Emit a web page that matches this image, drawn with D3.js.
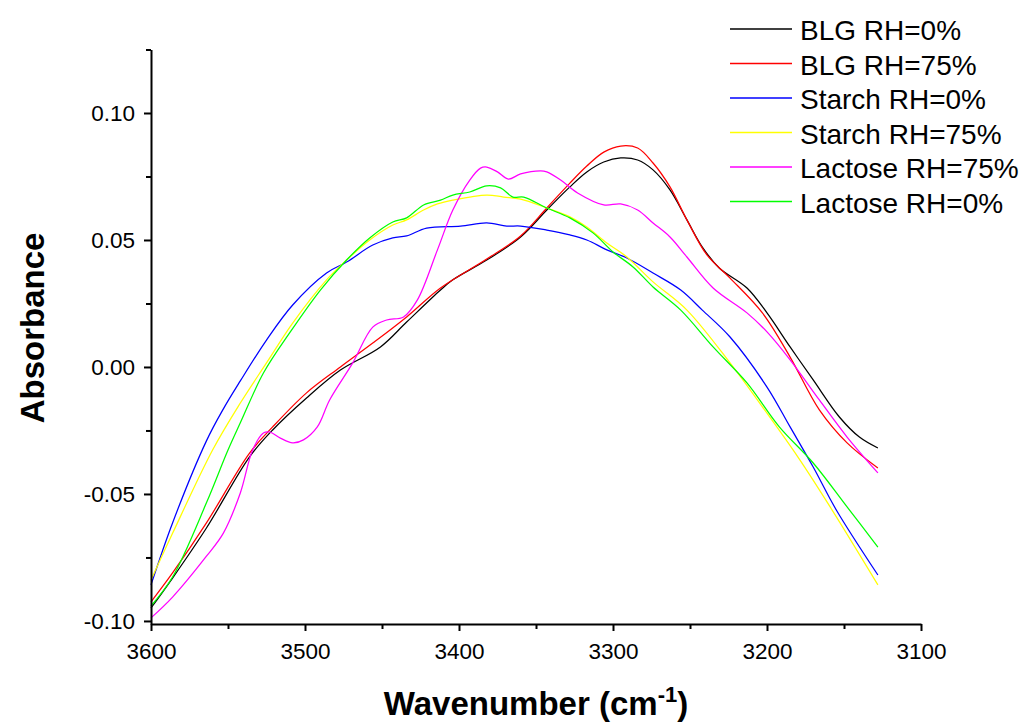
<!DOCTYPE html>
<html>
<head>
<meta charset="utf-8">
<script src="https://cdn.jsdelivr.net/npm/d3@7"></script>
<style>
  body { margin: 0; background: #fff; }
  svg { display: block; font-family: "Liberation Sans", Arial, sans-serif; }
</style>
</head>
<body>
<svg id="chart" width="1021" height="725"></svg>
<script>
// ---- Data (wavenumber cm-1, absorbance) ----
const seriesNames = ["BLG RH=0%", "BLG RH=75%", "Starch RH=0%", "Starch RH=75%", "Lactose RH=75%", "Lactose RH=0%"];
const seriesColors = ["#000000", "#ff0000", "#0000ff", "#ffff00", "#ff00ff", "#00ff00"];

const blg0 = [[3600,-0.0949],[3586,-0.0831],[3564,-0.0634],[3536,-0.0354],[3521,-0.0248],[3499,-0.0122],[3477,-0.0012],[3451,0.0079],[3434,0.0177],[3412,0.0303],[3404,0.0343],[3382,0.0421],[3360,0.0512],[3343,0.0618],[3328,0.0709],[3317,0.0768],[3306,0.0807],[3295,0.0823],[3284,0.0815],[3274,0.0776],[3263,0.0697],[3252,0.0579],[3242,0.0472],[3231,0.0390],[3213,0.0311],[3200,0.0213],[3185,0.0079],[3170,-0.0051],[3153,-0.0197],[3140,-0.0276],[3128,-0.0319]];

const blg75 = [[3600,-0.0925],[3586,-0.0811],[3564,-0.0614],[3536,-0.0339],[3521,-0.0236],[3499,-0.0102],[3477,0.0000],[3456,0.0094],[3434,0.0197],[3412,0.0311],[3382,0.0425],[3360,0.0516],[3343,0.0626],[3328,0.0724],[3317,0.0791],[3306,0.0846],[3295,0.0870],[3284,0.0862],[3274,0.0803],[3263,0.0709],[3252,0.0579],[3239,0.0441],[3224,0.0350],[3203,0.0213],[3185,0.0039],[3166,-0.0169],[3148,-0.0299],[3128,-0.0398]];

const starch0 = [[3600,-0.0858],[3586,-0.0614],[3564,-0.0291],[3553,-0.0165],[3542,-0.0055],[3525,0.0106],[3508,0.0244],[3486,0.0370],[3473,0.0413],[3456,0.0480],[3443,0.0508],[3434,0.0516],[3421,0.0547],[3399,0.0555],[3382,0.0567],[3369,0.0555],[3360,0.0555],[3343,0.0539],[3328,0.0520],[3317,0.0500],[3304,0.0461],[3291,0.0429],[3274,0.0370],[3256,0.0303],[3242,0.0224],[3224,0.0118],[3200,-0.0079],[3185,-0.0236],[3170,-0.0394],[3155,-0.0563],[3128,-0.0819]];

const starch75 = [[3600,-0.0839],[3586,-0.0655],[3560,-0.0327],[3542,-0.0142],[3525,0.0016],[3508,0.0173],[3486,0.0343],[3473,0.0421],[3458,0.0500],[3443,0.0559],[3434,0.0579],[3423,0.0618],[3414,0.0642],[3404,0.0657],[3382,0.0677],[3371,0.0669],[3360,0.0661],[3343,0.0626],[3328,0.0591],[3317,0.0551],[3304,0.0488],[3291,0.0433],[3274,0.0335],[3252,0.0224],[3224,0.0016],[3203,-0.0157],[3180,-0.0354],[3159,-0.0551],[3128,-0.0858]];

const lactose75 = [[3600,-0.0988],[3586,-0.0906],[3564,-0.0745],[3553,-0.0654],[3542,-0.0496],[3534,-0.0327],[3527,-0.0260],[3523,-0.0256],[3516,-0.0280],[3508,-0.0299],[3501,-0.0287],[3492,-0.0236],[3484,-0.0130],[3469,0.0016],[3456,0.0157],[3447,0.0185],[3436,0.0197],[3427,0.0264],[3414,0.0461],[3404,0.0618],[3393,0.0736],[3386,0.0783],[3382,0.0787],[3375,0.0768],[3368,0.0740],[3360,0.0760],[3347,0.0772],[3343,0.0768],[3334,0.0736],[3323,0.0685],[3306,0.0638],[3295,0.0642],[3284,0.0618],[3274,0.0567],[3263,0.0512],[3252,0.0433],[3235,0.0311],[3213,0.0213],[3200,0.0138],[3185,0.0028],[3166,-0.0130],[3148,-0.0276],[3128,-0.0417]];

const lactose0 = [[3600,-0.0941],[3586,-0.0827],[3564,-0.0535],[3550,-0.0327],[3542,-0.0220],[3527,-0.0024],[3510,0.0134],[3490,0.0303],[3473,0.0421],[3458,0.0508],[3443,0.0571],[3434,0.0587],[3423,0.0638],[3412,0.0657],[3404,0.0677],[3393,0.0689],[3382,0.0713],[3373,0.0705],[3365,0.0669],[3358,0.0669],[3343,0.0626],[3328,0.0587],[3313,0.0528],[3300,0.0453],[3287,0.0394],[3274,0.0315],[3256,0.0224],[3235,0.0079],[3213,-0.0063],[3192,-0.0236],[3170,-0.0378],[3148,-0.0551],[3128,-0.0709]];

const seriesData = [blg0, blg75, starch0, starch75, lactose75, lactose0];

const xTicks = [3600, 3500, 3400, 3300, 3200, 3100];
const xMinorTicks = [3550, 3450, 3350, 3250, 3150];
const yTicks = [-0.10, -0.05, 0.00, 0.05, 0.10];
const yMinorTicks = [-0.075, -0.025, 0.025, 0.075, 0.125];

// ---- Layout ----
const svg = d3.select("#chart");
const plotLeft = 151, plotRight = 921, plotTop = 49.5, plotBottom = 624;

const x = d3.scaleLinear().domain([3600, 3100]).range([plotLeft, plotRight]);
const y = d3.scaleLinear().domain([-0.1012, 0.125]).range([plotBottom, plotTop]);

// ---- Curves ----
const line = d3.line()
  .x(d => x(d[0]))
  .y(d => y(d[1]))
  .curve(d3.curveCatmullRom.alpha(0.5));

svg.append("g").selectAll("path")
  .data(seriesData)
  .join("path")
  .attr("d", d => line(d))
  .attr("fill", "none")
  .attr("stroke", (d, i) => seriesColors[i])
  .attr("stroke-width", 1.25);

// ---- Axes ----
const xAxis = svg.append("g").attr("transform", `translate(0,${plotBottom})`)
  .call(d3.axisBottom(x).tickValues(xTicks).tickSize(7).tickSizeOuter(0).tickFormat(d3.format("d")).tickPadding(12));
const xMinor = svg.append("g").attr("transform", `translate(0,${plotBottom})`)
  .call(d3.axisBottom(x).tickValues(xMinorTicks).tickSize(5).tickSizeOuter(0).tickFormat(""));

const yAxis = svg.append("g").attr("transform", `translate(${plotLeft},0)`)
  .call(d3.axisLeft(y).tickValues(yTicks).tickSize(7).tickSizeOuter(0).tickFormat(d3.format(".2f")).tickPadding(9));
const yMinor = svg.append("g").attr("transform", `translate(${plotLeft},0)`)
  .call(d3.axisLeft(y).tickValues(yMinorTicks).tickSize(5).tickSizeOuter(0).tickFormat(""));

[xAxis, xMinor, yAxis, yMinor].forEach(g => {
  g.selectAll(".domain").attr("stroke", "#000").attr("stroke-width", 2);
  g.selectAll(".tick line").attr("stroke", "#000").attr("stroke-width", 2);
  g.selectAll(".tick text").attr("fill", "#000").style("font-size", "22.5px")
    .style("font-family", "'Liberation Sans', Arial, sans-serif");
});
xMinor.select(".domain").remove();
yMinor.select(".domain").remove();
yAxis.selectAll(".tick text").text(d => d3.format(".2f")(d).replace("−", "-"));

// ---- Axis titles ----
const xTitle = svg.append("text")
  .attr("x", 536).attr("y", 715)
  .attr("text-anchor", "middle")
  .style("font-size", "33px").style("font-weight", "bold");
xTitle.append("tspan").text("Wavenumber (cm");
xTitle.append("tspan").text("-1").attr("dy", -13).style("font-size", "22px");
xTitle.append("tspan").text(")").attr("dy", 13);

svg.append("text")
  .attr("transform", "translate(44,328) rotate(-90)")
  .attr("text-anchor", "middle")
  .style("font-size", "33px").style("font-weight", "bold")
  .text("Absorbance");

// ---- Legend ----
const legend = svg.append("g");
seriesNames.forEach((name, i) => {
  const ly = 29 + i * 34.5;
  legend.append("line")
    .attr("x1", 730).attr("x2", 792).attr("y1", ly).attr("y2", ly)
    .attr("stroke", seriesColors[i]).attr("stroke-width", 1.3);
  legend.append("text")
    .attr("x", 800).attr("y", ly + 11)
    .style("font-size", "28px")
    .text(name);
});
</script>
</body>
</html>
